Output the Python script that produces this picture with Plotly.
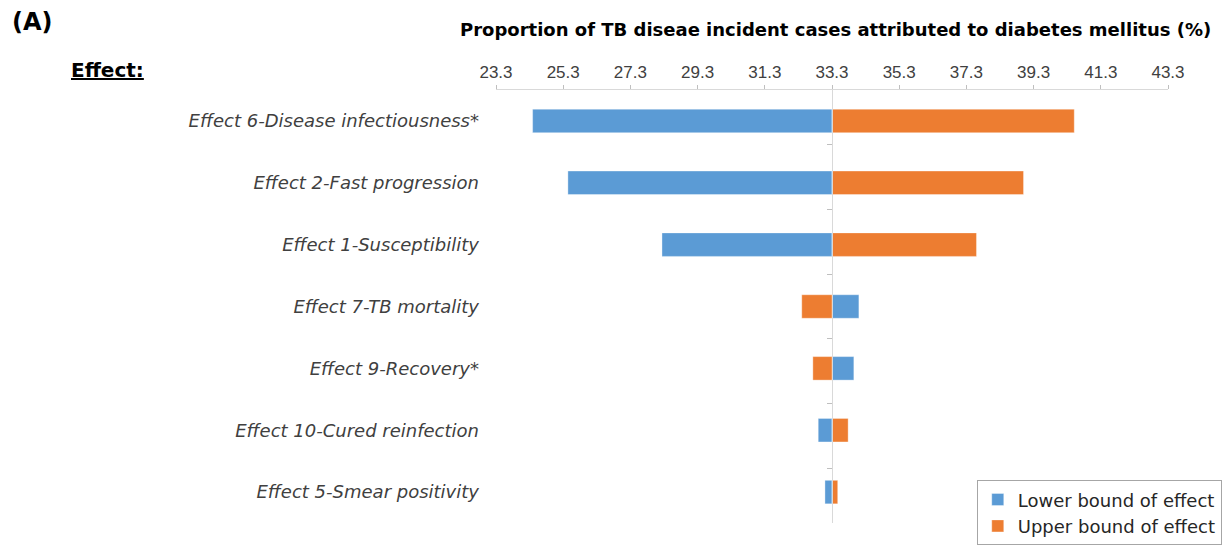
"""Tornado chart: share of TB incident cases attributed to diabetes mellitus."""

import plotly.graph_objects as go

BASELINE = 33.3

EFFECTS = [
    "Effect 6-Disease infectiousness*",
    "Effect 2-Fast progression",
    "Effect 1-Susceptibility",
    "Effect 7-TB mortality",
    "Effect 9-Recovery*",
    "Effect 10-Cured reinfection",
    "Effect 5-Smear positivity",
]
LOWER_BOUND = [24.39, 25.44, 28.24, 34.10, 33.95, 32.89, 33.09]
UPPER_BOUND = [40.51, 39.00, 37.60, 32.40, 32.73, 33.78, 33.47]
X_TICKS = [23.3, 25.3, 27.3, 29.3, 31.3, 33.3, 35.3, 37.3, 39.3, 41.3, 43.3]

BLUE = "#5B9BD5"
ORANGE = "#ED7D31"
GRID = "#D9D9D9"
FONT = "DejaVu Sans, sans-serif"

fig = go.Figure()
fig.add_trace(go.Bar(
    name="Lower bound of effect",
    y=EFFECTS,
    x=[v - BASELINE for v in LOWER_BOUND],
    base=BASELINE,
    orientation="h",
    width=0.38,
    marker=dict(color=BLUE, line=dict(color="rgba(255,255,255,0.35)", width=1)),
))
fig.add_trace(go.Bar(
    name="Upper bound of effect",
    y=EFFECTS,
    x=[v - BASELINE for v in UPPER_BOUND],
    base=BASELINE,
    orientation="h",
    width=0.38,
    marker=dict(color=ORANGE, line=dict(color="rgba(255,255,255,0.35)", width=1)),
))
# invisible helper so the centre axis (at the baseline) gets its category ticks
fig.add_trace(go.Scatter(
    y=EFFECTS,
    x=[BASELINE] * len(EFFECTS),
    yaxis="y2",
    mode="lines",
    opacity=0,
    showlegend=False,
    hoverinfo="skip",
))

# page body keeps its 8px margin, so the figure is 8px smaller than the window
fig.update_layout(
    width=1223,
    height=538,
    paper_bgcolor="white",
    plot_bgcolor="white",
    barmode="overlay",
    margin=dict(l=488, r=63, t=82, b=23, autoexpand=False),
    font=dict(family=FONT, color="#404040"),
    xaxis=dict(
        side="top",
        range=[23.3, 43.3],
        tickvals=X_TICKS,
        ticktext=[f"{v:.1f}" for v in X_TICKS],
        tickfont=dict(family="Liberation Sans, Arial, sans-serif", size=17, color="#404040"),
        ticks="outside",
        ticklen=4,
        tickcolor="#BFBFBF",
        showline=True,
        linecolor=GRID,
        linewidth=1,
        showgrid=False,
        zeroline=False,
    ),
    yaxis=dict(
        type="category",
        autorange="reversed",
        showgrid=False,
        showline=False,
        ticks="",
        ticklabelstandoff=16,
        tickfont=dict(family=FONT, size=18, color="#404040", style="italic"),
    ),
    yaxis2=dict(
        type="category",
        overlaying="y",
        anchor="free",
        position=0.5,
        side="left",
        autorange="reversed",
        showticklabels=False,
        tickson="boundaries",
        ticks="outside",
        ticklen=5,
        tickcolor="#BFBFBF",
        showline=True,
        linecolor=GRID,
        linewidth=1,
        showgrid=False,
    ),
    legend=dict(
        x=1.08, xanchor="right",
        y=-0.0515, yanchor="bottom",
        bordercolor="#A6A6A6",
        borderwidth=1,
        bgcolor="white",
        font=dict(family=FONT, size=18, color="#262626"),
        tracegroupgap=0,
        itemwidth=30,
    ),
    annotations=[
        dict(
            text="<b>Proportion of TB diseae incident cases attributed to diabetes mellitus (%)</b>",
            xref="paper", yref="paper", x=0.505, y=1.139,
            xanchor="center", yanchor="middle", showarrow=False,
            font=dict(family=FONT, size=18, color="#000000"),
        ),
        dict(
            text="<b>(A)</b>",
            xref="paper", yref="paper", x=-0.7236, y=1.157,
            xanchor="left", yanchor="middle", showarrow=False,
            font=dict(family=FONT, size=24, color="#000000"),
        ),
        dict(
            text="<b><u>Effect:</u></b>",
            xref="paper", yref="paper", x=-0.636, y=1.046,
            xanchor="left", yanchor="middle", showarrow=False,
            font=dict(family=FONT, size=20, color="#000000"),
        ),
    ],
)

fig.write_html("out.html")
